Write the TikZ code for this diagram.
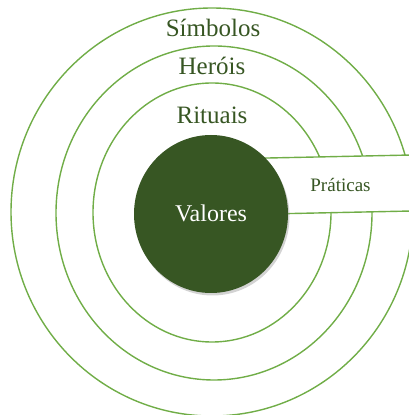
\documentclass[tikz,border=0pt]{standalone}
\usepackage{fontspec}
\setmainfont{Liberation Serif}
\usetikzlibrary{shapes.geometric, shadows}

\definecolor{ringgreen}{RGB}{112,173,71}
\definecolor{darkgreen}{RGB}{55,86,35}

\begin{document}
\begin{tikzpicture}[
  x=1pt, y=1pt,
  ring/.style={draw=ringgreen, line width=1.4pt},
  band/.style={rectangle, draw=ringgreen, line width=1.4pt, fill=white, minimum width=180pt, minimum height=56pt, rotate=1.2},
  core/.style={ellipse, fill=darkgreen, minimum width=154pt, minimum height=158pt, inner sep=0pt, drop shadow={shadow xshift=1.5pt, shadow yshift=-2.5pt, opacity=0.35}},
  label/.style={anchor=base, text=darkgreen, font=\fontsize{25}{30}\selectfont}
]
  \useasboundingbox (0,0) rectangle (408,415);

  \draw[ring] (212,203) ellipse (201 and 204);
  \draw[ring] (214,202) ellipse (158 and 167);
  \draw[ring] (212,202.5) ellipse (119 and 129.5);

  \node[band] (praticasbox) at (340,230.5) {};

  \node[core] (valores) at (211,201) {};
  \node[anchor=base, text=white, font=\fontsize{24}{28}\selectfont] (valorestext) at (211,193.3) {Valores};

  \node[label] (simbolos) at (213,378) {Símbolos};
  \node[label] (herois) at (212,340) {Heróis};
  \node[label] (rituais) at (212,291) {Rituais};
  \node[anchor=base, text=darkgreen, font=\fontsize{19}{23}\selectfont] (praticas) at (340.5,223.3) {Práticas};
\end{tikzpicture}
\end{document}
